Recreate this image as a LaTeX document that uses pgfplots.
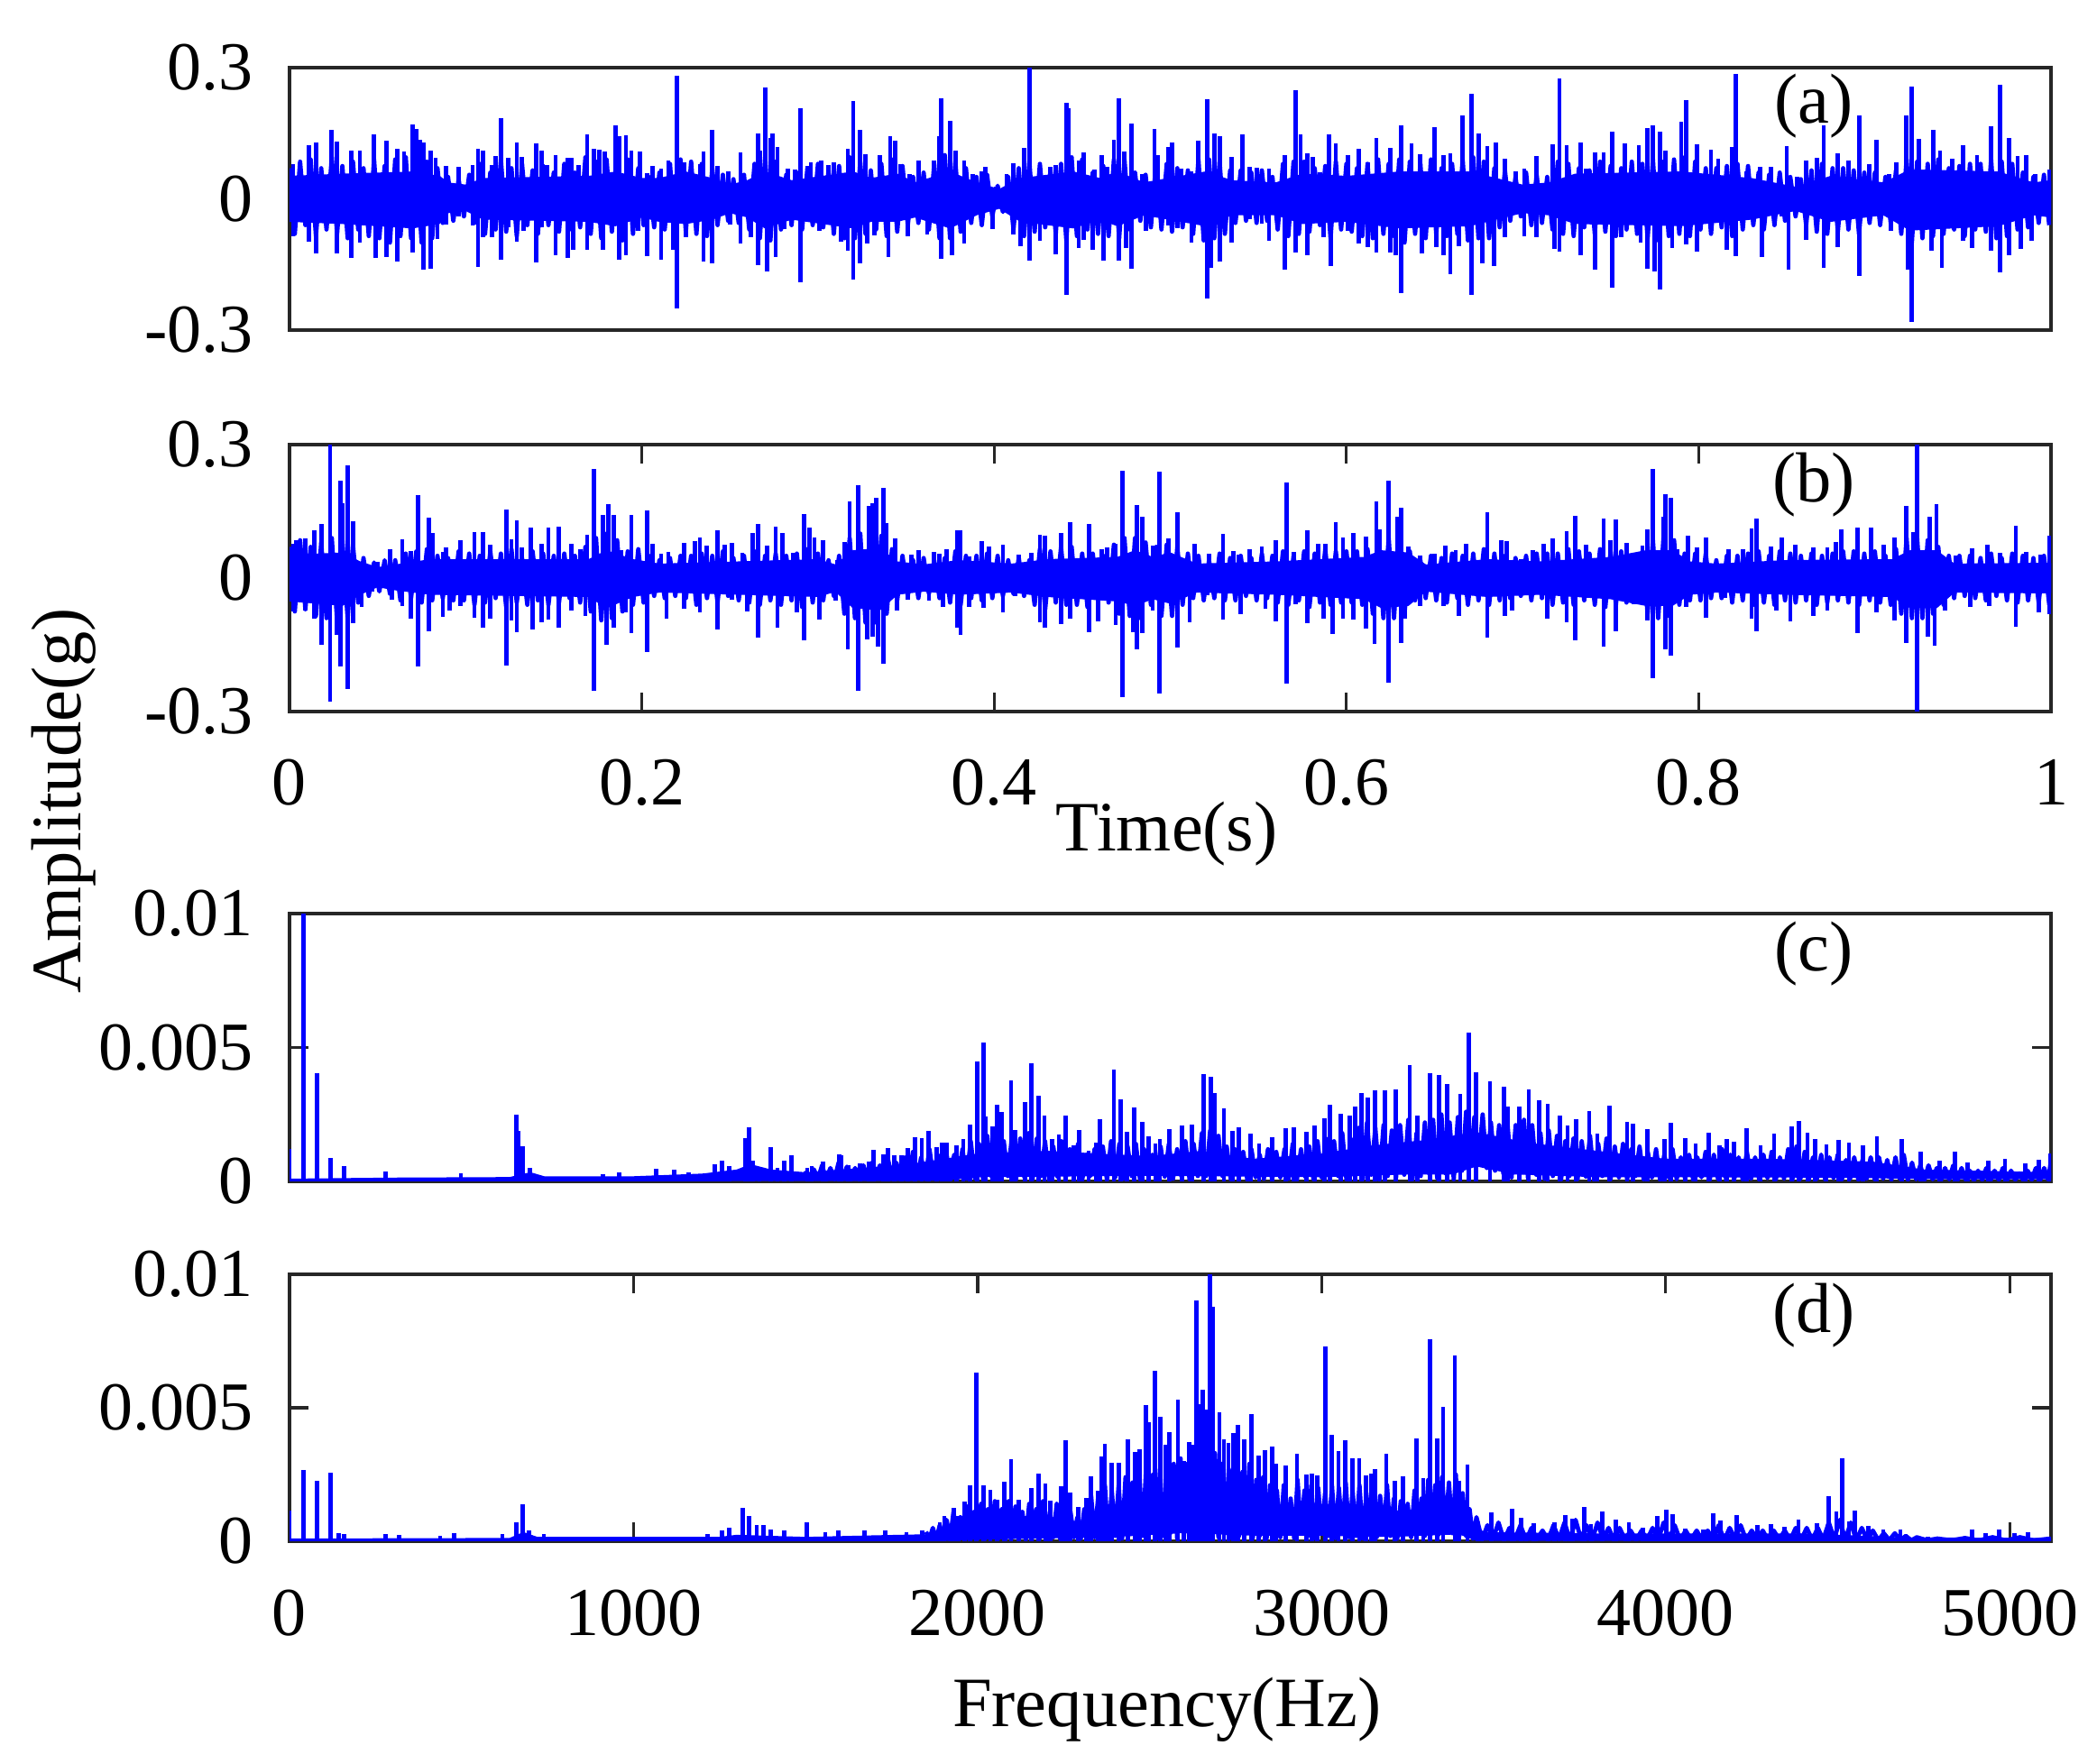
\documentclass[border=0pt]{standalone}
\usepackage{fontspec}
\setmainfont{Liberation Serif}
\usepackage{pgfplots}
\pgfplotsset{compat=1.18}
\definecolor{axisgray}{HTML}{262626}
\pgfplotsset{
  panel/.style={
    scale only axis, width=781.2pt, clip=true, scaled y ticks=false,
    axis line style={axisgray,line width=1.5pt},
    tick style={axisgray,line width=1.3pt},
    major tick length=8.4pt, tick align=inside, tick pos=both,
    font=\fontsize{30.4}{34}\selectfont,
    yticklabel style={inner sep=0pt,xshift=-16pt,text=black},
    xticklabel style={inner sep=0pt,yshift=-21pt,text=black},
  },
  spike/.style={ycomb,blue,line width=1.9pt,no markers},
  zig/.style={blue,line width=1.9pt,no markers,line join=round},
  core/.style={blue,fill=blue,line width=1pt,no markers},
}
\begin{document}
\begin{tikzpicture}[x=1pt,y=1pt]
\path[use as bounding box] (0,0) rectangle (930,782.4);
% ---------------- (a)
\begin{axis}[panel,at={(128.4pt,636pt)},anchor=south west,height=116.4pt,
  xmin=0,xmax=1,ymin=-0.3,ymax=0.3,xtick=\empty,ytick={-0.3,0,0.3},yticklabels={-0.3,0,0.3}]
\addplot[core] coordinates {(0,.05)(.03,.055)(.07,.06)(.085,.05)(.09,.035)(.10,.03)(.11,.045)(.17,.05)(.185,.06)(.2,.045)(.21,.045)(.225,.06)(.24,.045)(.25,.03)(.26,.04)(.27,.06)(.285,.04)(.32,.06)(.33,.045)(.345,.055)(.355,.035)(.375,.06)(.39,.035)(.403,.02)(.415,.045)(.445,.06)(.46,.045)(.47,.06)(.485,.035)(.52,.06)(.535,.04)(.56,.035)(.575,.055)(.6,.05)(.63,.06)(.67,.06)(.69,.04)(.7,.03)(.715,.035)(.73,.055)(.79,.06)(.83,.045)(.855,.025)(.875,.05)(.905,.035)(.92,.065)(.97,.06)(.99,.035)(1,.04)(1,-.04)(.99,-.035)(.97,-.06)(.92,-.07)(.905,-.035)(.875,-.05)(.855,-.025)(.83,-.045)(.79,-.06)(.73,-.055)(.715,-.035)(.7,-.03)(.69,-.04)(.67,-.06)(.63,-.065)(.6,-.05)(.575,-.055)(.56,-.035)(.535,-.035)(.52,-.06)(.485,-.035)(.47,-.06)(.46,-.045)(.445,-.065)(.415,-.05)(.403,-.02)(.39,-.035)(.375,-.065)(.355,-.04)(.345,-.05)(.33,-.05)(.32,-.065)(.285,-.045)(.27,-.065)(.26,-.04)(.25,-.03)(.24,-.045)(.225,-.055)(.21,-.05)(.2,-.04)(.185,-.06)(.17,-.05)(.11,-.045)(.10,-.025)(.09,-.03)(.085,-.055)(.07,-.065)(.03,-.055)(0,-.05)};
\addplot[zig] coordinates {(0,.07)(.003,-.08)(.006,.085)(.009,-.06)(.012,.09)(.015,-.085)(.018,.07)(.021,-.07)(.024,.095)(.027,-.08)(.03,.075)(.033,-.09)(.036,.085)(.039,-.07)(.042,.07)(.045,-.085)(.048,.09)(.051,-.09)(.054,.075)(.057,-.1)(.06,.09)(.063,-.085)(.066,.095)(.069,-.09)(.072,.09)(.075,-.1)(.078,.085)(.081,-.09)(.084,.07)(.087,-.055)(.09,.05)(.093,-.05)(.096,.045)(.099,-.04)(.102,.055)(.105,-.055)(.108,.08)(.111,-.08)(.114,.06)(.117,-.07)(.12,.09)(.123,-.075)(.126,.07)(.129,-.085)(.132,.08)(.135,-.06)(.138,.065)(.141,-.08)(.144,.075)(.147,-.06)(.15,.06)(.153,-.075)(.156,.08)(.159,-.07)(.162,.06)(.165,-.065)(.168,.095)(.171,-.08)(.174,.085)(.177,-.09)(.18,.09)(.183,-.075)(.186,.085)(.189,-.095)(.192,.09)(.195,-.08)(.198,.07)(.201,-.06)(.204,.05)(.207,-.065)(.21,.06)(.213,-.07)(.216,.08)(.219,-.085)(.222,.09)(.225,-.075)(.228,.085)(.231,-.08)(.234,.08)(.237,-.085)(.24,.07)(.243,-.06)(.246,.055)(.249,-.05)(.252,.045)(.255,-.055)(.258,.055)(.261,-.07)(.264,.08)(.267,-.09)(.27,.095)(.273,-.095)(.276,.085)(.279,-.07)(.282,.055)(.285,-.06)(.288,.06)(.291,-.07)(.294,.07)(.297,-.06)(.30,.08)(.303,-.065)(.306,.065)(.309,-.08)(.312,.075)(.315,-.09)(.318,.095)(.321,-.09)(.324,.085)(.327,-.08)(.33,.065)(.333,-.07)(.336,.08)(.339,-.085)(.342,.09)(.345,-.075)(.348,.075)(.351,-.06)(.354,.05)(.357,-.055)(.36,.06)(.363,-.07)(.366,.08)(.369,-.09)(.372,.1)(.375,-.09)(.378,.085)(.381,-.075)(.384,.07)(.387,-.055)(.39,.05)(.393,-.06)(.396,.055)(.399,-.04)(.402,.03)(.405,-.03)(.408,.05)(.411,-.07)(.414,.07)(.417,-.085)(.42,.085)(.423,-.075)(.426,.08)(.429,-.065)(.432,.065)(.435,-.08)(.438,.08)(.441,-.095)(.444,.095)(.447,-.085)(.45,.09)(.453,-.07)(.456,.06)(.459,-.08)(.462,.075)(.465,-.085)(.468,.09)(.471,-.09)(.474,.09)(.477,-.07)(.48,.06)(.483,-.05)(.486,.055)(.489,-.065)(.492,.085)(.495,-.07)(.498,.08)(.501,-.075)(.504,.07)(.507,-.065)(.51,.065)(.513,-.08)(.516,.09)(.519,-.095)(.522,.09)(.525,-.09)(.528,.085)(.531,-.08)(.534,.065)(.537,-.055)(.54,.065)(.543,-.05)(.546,.06)(.549,-.055)(.552,.065)(.555,-.05)(.558,.05)(.561,-.07)(.564,.08)(.567,-.085)(.57,.085)(.573,-.08)(.576,.085)(.579,-.075)(.582,.07)(.585,-.06)(.588,.075)(.591,-.09)(.594,.085)(.597,-.07)(.60,.08)(.603,-.075)(.606,.07)(.609,-.085)(.612,.08)(.615,-.09)(.618,.09)(.621,-.08)(.624,.08)(.627,-.085)(.63,.09)(.633,-.1)(.636,.085)(.639,-.08)(.642,.08)(.645,-.09)(.648,.09)(.651,-.08)(.654,.07)(.657,-.085)(.66,.08)(.663,-.08)(.666,.09)(.669,-.095)(.672,.095)(.675,-.09)(.678,.085)(.681,-.09)(.684,.07)(.687,-.065)(.69,.065)(.693,-.05)(.696,.05)(.699,-.04)(.702,.06)(.705,-.06)(.708,.055)(.711,-.055)(.714,.05)(.717,-.07)(.72,.085)(.723,-.08)(.726,.08)(.729,-.085)(.732,.07)(.735,-.065)(.738,.065)(.741,-.08)(.744,.085)(.747,-.075)(.75,.075)(.753,-.085)(.756,.07)(.759,-.07)(.762,.085)(.765,-.08)(.768,.08)(.771,-.09)(.774,.09)(.777,-.095)(.78,.085)(.783,-.085)(.786,.09)(.789,-.08)(.792,.095)(.795,-.085)(.798,.085)(.801,-.07)(.804,.07)(.807,-.08)(.81,.07)(.813,-.065)(.816,.075)(.819,-.085)(.822,.08)(.825,-.07)(.828,.075)(.831,-.06)(.834,.06)(.837,-.07)(.84,.055)(.843,-.06)(.846,.06)(.849,-.05)(.852,.05)(.855,-.04)(.858,.045)(.861,-.06)(.864,.065)(.867,-.075)(.87,.08)(.873,-.08)(.876,.07)(.879,-.075)(.882,.07)(.885,-.07)(.888,.065)(.891,-.08)(.894,.06)(.897,-.055)(.90,.06)(.903,-.06)(.906,.05)(.909,-.055)(.912,.065)(.915,-.08)(.918,.09)(.921,-.1)(.924,.085)(.927,-.09)(.93,.08)(.933,-.085)(.936,.09)(.939,-.08)(.942,.07)(.945,-.07)(.948,.075)(.951,-.085)(.954,.08)(.957,-.07)(.96,.08)(.963,-.075)(.966,.09)(.969,-.09)(.972,.085)(.975,-.085)(.978,.08)(.981,-.07)(.984,.06)(.987,-.065)(.99,.05)(.993,-.055)(.996,.055)(.999,-.06)};
\addplot[spike] coordinates {(.002,.08)(.011,.122)(.015,.129)(.024,.158)(.027,.13)(.035,.11)(.040,.11)(.048,.147)(.055,.133)(.061,.114)(.065,.108)(.070,.171)(.072,.16)(.074,.135)(.076,.129)(.080,.111)(.083,.094)(.089,.076)(.096,.073)(.104,.077)(.107,.115)(.110,.111)(.115,.077)(.117,.098)(.120,.184)(.124,.094)(.129,.129)(.132,.096)(.140,.127)(.143,.111)(.146,.078)(.151,.1)(.158,.094)(.160,.094)(.164,.077)(.169,.147)(.173,.115)(.176,.113)(.179,.109)(.185,.168)(.187,.144)(.191,.145)(.194,.111)(.199,.108)(.203,.058)(.206,.075)(.211,.07)(.215,.087)(.220,.281)(.224,.084)(.233,.08)(.235,.108)(.240,.158)(.243,.076)(.249,.063)(.256,.106)(.26,.043)(.266,.15)(.267,.111)(.270,.254)(.273,.139)(.274,.149)(.277,.118)(.283,.07)(.287,.067)(.290,.207)(.294,.075)(.296,.084)(.302,.088)(.306,.077)(.309,.084)(.317,.114)(.320,.224)(.324,.158)(.327,.103)(.335,.1)(.341,.143)(.344,.132)(.347,.08)(.352,.056)(.357,.088)(.360,.063)(.366,.088)(.369,.144)(.370,.23)(.375,.179)(.378,.11)(.383,.088)(.388,.056)(.393,.063)(.395,.074)(.401,.028)(.407,.056)(.411,.081)(.417,.117)(.420,.299)(.426,.084)(.432,.074)(.435,.078)(.441,.219)(.442,.208)(.448,.088)(.451,.107)(.457,.067)(.461,.1)(.464,.074)(.468,.136)(.471,.23)(.474,.109)(.478,.173)(.484,.056)(.491,.16)(.493,.1)(.499,.118)(.501,.129)(.506,.07)(.512,.063)(.516,.133)(.521,.228)(.525,.149)(.528,.144)(.535,.096)(.541,.147)(.545,.074)(.549,.072)(.556,.069)(.565,.101)(.571,.249)(.574,.147)(.578,.105)(.581,.095)(.585,.06)(.590,.147)(.594,.127)(.601,.1)(.607,.115)(.612,.083)(.617,.14)(.625,.117)(.631,.169)(.637,.127)(.642,.102)(.650,.163)(.655,.1)(.659,.105)(.666,.19)(.671,.24)(.675,.149)(.680,.12)(.685,.129)(.690,.092)(.696,.062)(.701,.069)(.708,.098)(.714,.043)(.717,.124)(.721,.275)(.725,.122)(.733,.129)(.736,.07)(.741,.106)(.746,.106)(.751,.153)(.758,.127)(.766,.123)(.771,.161)(.774,.168)(.778,.153)(.781,.111)(.786,.094)(.790,.176)(.793,.225)(.799,.125)(.807,.113)(.811,.092)(.819,.118)(.821,.286)(.827,.063)(.835,.074)(.841,.074)(.850,.12)(.856,.05)(.861,.087)(.867,.094)(.871,.169)(.879,.105)(.885,.087)(.891,.19)(.897,.08)(.901,.135)(.908,.056)(.912,.084)(.918,.19)(.921,.256)(.925,.138)(.933,.158)(.937,.11)(.944,.091)(.950,.122)(.958,.099)(.966,.166)(.971,.26)(.976,.14)(.981,.098)(.986,.099)(.991,.056)(.999,.067)};
\addplot[spike] coordinates {(.002,-.085)(.011,-.098)(.015,-.124)(.027,-.124)(.035,-.136)(.040,-.1)(.049,-.135)(.055,-.133)(.061,-.143)(.070,-.122)(.076,-.162)(.080,-.159)(.084,-.092)(.089,-.058)(.096,-.04)(.104,-.06)(.107,-.155)(.110,-.088)(.115,-.088)(.120,-.14)(.124,-.064)(.129,-.098)(.133,-.074)(.140,-.145)(.143,-.065)(.151,-.128)(.158,-.136)(.161,-.117)(.169,-.116)(.178,-.116)(.187,-.139)(.191,-.128)(.198,-.074)(.203,-.131)(.211,-.139)(.218,-.116)(.220,-.25)(.225,-.087)(.235,-.143)(.240,-.148)(.250,-.059)(.256,-.103)(.262,-.088)(.266,-.152)(.271,-.167)(.276,-.133)(.281,-.069)(.290,-.191)(.301,-.074)(.313,-.098)(.317,-.119)(.320,-.184)(.324,-.148)(.328,-.102)(.332,-.083)(.340,-.133)(.351,-.085)(.362,-.081)(.370,-.138)(.376,-.129)(.383,-.102)(.399,-.069)(.411,-.081)(.415,-.109)(.420,-.142)(.426,-.095)(.435,-.127)(.441,-.22)(.448,-.112)(.451,-.094)(.456,-.116)(.462,-.141)(.471,-.142)(.475,-.112)(.478,-.16)(.486,-.074)(.499,-.06)(.504,-.067)(.512,-.1)(.521,-.228)(.523,-.158)(.528,-.144)(.535,-.1)(.545,-.047)(.552,-.057)(.556,-.096)(.565,-.162)(.571,-.122)(.578,-.129)(.587,-.088)(.591,-.154)(.601,-.074)(.607,-.102)(.612,-.11)(.617,-.122)(.625,-.122)(.628,-.129)(.631,-.215)(.643,-.124)(.651,-.11)(.655,-.129)(.659,-.172)(.664,-.109)(.671,-.22)(.677,-.148)(.684,-.153)(.690,-.088)(.695,-.03)(.701,-.085)(.708,-.088)(.718,-.114)(.721,-.121)(.733,-.129)(.741,-.162)(.751,-.203)(.756,-.088)(.767,-.1)(.771,-.16)(.775,-.167)(.778,-.208)(.785,-.112)(.793,-.105)(.799,-.121)(.816,-.117)(.821,-.131)(.836,-.133)(.847,-.04)(.851,-.162)(.861,-.094)(.871,-.158)(.879,-.111)(.891,-.176)(.897,-.05)(.909,-.074)(.919,-.162)(.921,-.282)(.932,-.119)(.938,-.157)(.950,-.095)(.955,-.112)(.966,-.119)(.971,-.169)(.976,-.128)(.983,-.114)(.989,-.095)(.999,-.047)};
\end{axis}
% ---------------- (b)
\begin{axis}[panel,at={(128.4pt,466.8pt)},anchor=south west,height=118.4pt,
  xmin=0,xmax=1,ymin=-0.3,ymax=0.3,xtick={0,0.2,0.4,0.6,0.8,1},xticklabels={0,0.2,0.4,0.6,0.8,1},
  ytick={-0.3,0,0.3},yticklabels={-0.3,0,0.3}]
\addplot[core] coordinates {(0,.05)(.03,.055)(.04,.035)(.05,.022)(.06,.028)(.08,.04)(.17,.04)(.18,.06)(.195,.04)(.21,.03)(.3,.04)(.31,.028)(.32,.06)(.335,.065)(.345,.035)(.36,.028)(.38,.038)(.41,.03)(.43,.04)(.47,.045)(.48,.06)(.49,.045)(.5,.055)(.515,.03)(.56,.035)(.61,.045)(.62,.06)(.635,.055)(.645,.028)(.68,.04)(.71,.035)(.75,.045)(.77,.06)(.785,.06)(.795,.035)(.81,.03)(.85,.038)(.91,.04)(.92,.06)(.935,.06)(.945,.03)(1,.032)(1,-.032)(.945,-.03)(.935,-.065)(.92,-.065)(.91,-.04)(.85,-.035)(.81,-.03)(.795,-.035)(.785,-.06)(.77,-.06)(.75,-.045)(.71,-.035)(.68,-.04)(.645,-.028)(.635,-.06)(.62,-.065)(.61,-.045)(.56,-.035)(.515,-.03)(.5,-.055)(.49,-.045)(.48,-.06)(.47,-.05)(.43,-.04)(.41,-.03)(.38,-.035)(.36,-.028)(.345,-.035)(.335,-.07)(.32,-.065)(.31,-.028)(.3,-.04)(.21,-.03)(.195,-.04)(.18,-.065)(.17,-.04)(.08,-.035)(.06,-.025)(.05,-.018)(.04,-.035)(.03,-.06)(0,-.05)};
\addplot[zig] coordinates {(0,.07)(.003,-.075)(.006,.085)(.009,-.07)(.012,.07)(.015,-.085)(.018,.08)(.021,-.09)(.024,.09)(.027,-.095)(.03,.085)(.033,-.09)(.036,.075)(.039,-.055)(.042,.045)(.045,-.04)(.048,.035)(.051,-.03)(.054,.04)(.057,-.035)(.06,.04)(.063,-.05)(.066,.055)(.069,-.045)(.072,.06)(.075,-.055)(.078,.065)(.081,-.05)(.084,.05)(.087,-.045)(.09,.045)(.093,-.05)(.096,.06)(.099,-.05)(.102,.055)(.105,-.06)(.108,.05)(.111,-.055)(.114,.06)(.117,-.045)(.12,.055)(.123,-.065)(.126,.065)(.129,-.055)(.132,.045)(.135,-.06)(.138,.06)(.141,-.05)(.144,.055)(.147,-.06)(.15,.05)(.153,-.055)(.156,.055)(.159,-.045)(.162,.05)(.165,-.055)(.168,.07)(.171,-.075)(.174,.09)(.177,-.095)(.18,.1)(.183,-.09)(.186,.085)(.189,-.075)(.192,.06)(.195,-.06)(.198,.065)(.201,-.055)(.204,.05)(.207,-.04)(.21,.04)(.213,-.045)(.216,.045)(.219,-.04)(.222,.05)(.225,-.045)(.228,.05)(.231,-.06)(.234,.055)(.237,-.045)(.24,.05)(.243,-.055)(.246,.06)(.249,-.04)(.252,.045)(.255,-.05)(.258,.05)(.261,-.055)(.264,.06)(.267,-.06)(.27,.05)(.273,-.05)(.276,.055)(.279,-.06)(.282,.05)(.285,-.05)(.288,.055)(.291,-.065)(.294,.065)(.297,-.055)(.30,.055)(.303,-.05)(.306,.04)(.309,-.04)(.312,.05)(.315,-.08)(.318,.09)(.321,-.09)(.324,.1)(.327,-.1)(.33,.09)(.333,-.1)(.336,.095)(.339,-.08)(.342,.065)(.345,-.05)(.348,.05)(.351,-.04)(.354,.04)(.357,-.045)(.36,.045)(.363,-.035)(.366,.04)(.369,-.045)(.372,.045)(.375,-.055)(.378,.06)(.381,-.06)(.384,.05)(.387,-.045)(.39,.05)(.393,-.05)(.396,.055)(.399,-.045)(.402,.05)(.405,-.04)(.408,.04)(.411,-.035)(.414,.045)(.417,-.04)(.42,.04)(.423,-.06)(.426,.065)(.429,-.07)(.432,.06)(.435,-.055)(.438,.07)(.441,-.06)(.444,.07)(.447,-.06)(.45,.055)(.453,-.065)(.456,.055)(.459,-.05)(.462,.05)(.465,-.055)(.468,.075)(.471,-.08)(.474,.09)(.477,-.085)(.48,.09)(.483,-.09)(.486,.08)(.489,-.06)(.492,.07)(.495,-.085)(.498,.075)(.501,-.085)(.504,.07)(.507,-.06)(.51,.055)(.513,-.045)(.516,.05)(.519,-.05)(.522,.04)(.525,-.045)(.528,.055)(.531,-.05)(.534,.045)(.537,-.05)(.54,.05)(.543,-.04)(.546,.045)(.549,-.05)(.552,.055)(.555,-.045)(.558,.05)(.561,-.055)(.564,.06)(.567,-.06)(.57,.05)(.573,-.05)(.576,.06)(.579,-.065)(.582,.055)(.585,-.055)(.588,.065)(.591,-.06)(.594,.06)(.597,-.055)(.60,.06)(.603,-.055)(.606,.06)(.609,-.06)(.612,.065)(.615,-.08)(.618,.085)(.621,-.09)(.624,.09)(.627,-.09)(.63,.085)(.633,-.08)(.636,.06)(.639,-.05)(.642,.04)(.645,-.045)(.648,.05)(.651,-.05)(.654,.045)(.657,-.055)(.66,.055)(.663,-.045)(.666,.05)(.669,-.06)(.672,.055)(.675,-.05)(.678,.065)(.681,-.06)(.684,.055)(.687,-.05)(.69,.05)(.693,-.045)(.696,.045)(.699,-.04)(.702,.05)(.705,-.05)(.708,.055)(.711,-.045)(.714,.055)(.717,-.06)(.72,.055)(.723,-.055)(.726,.065)(.729,-.06)(.732,.06)(.735,-.05)(.738,.055)(.741,-.06)(.744,.065)(.747,-.065)(.75,.06)(.753,-.06)(.756,.06)(.759,-.055)(.762,.05)(.765,-.05)(.768,.06)(.771,-.08)(.774,.085)(.777,-.09)(.78,.09)(.783,-.085)(.786,.085)(.789,-.06)(.792,.055)(.795,-.05)(.798,.055)(.801,-.05)(.804,.055)(.807,-.045)(.81,.04)(.813,-.045)(.816,.05)(.819,-.055)(.822,.05)(.825,-.05)(.828,.055)(.831,-.06)(.834,.06)(.837,-.055)(.84,.05)(.843,-.06)(.846,.06)(.849,-.05)(.852,.055)(.855,-.055)(.858,.05)(.861,-.05)(.864,.055)(.867,-.06)(.87,.05)(.873,-.055)(.876,.055)(.879,-.05)(.882,.06)(.885,-.055)(.888,.06)(.891,-.06)(.894,.055)(.897,-.05)(.90,.06)(.903,-.055)(.906,.05)(.909,-.06)(.912,.065)(.915,-.08)(.918,.09)(.921,-.09)(.924,.09)(.927,-.09)(.93,.085)(.933,-.08)(.936,.07)(.939,-.06)(.942,.05)(.945,-.045)(.948,.05)(.951,-.04)(.954,.05)(.957,-.045)(.96,.045)(.963,-.05)(.966,.055)(.969,-.04)(.972,.045)(.975,-.05)(.978,.055)(.981,-.055)(.984,.05)(.987,-.05)(.99,.045)(.993,-.055)(.996,.05)(.999,-.06)};
\addplot[spike] coordinates {(.002,.077)(.004,.086)(.009,.09)(.014,.107)(.018,.122)(.023,.3)(.029,.219)(.030,.168)(.033,.253)(.036,.128)(.042,.049)(.050,.037)(.057,.064)(.064,.087)(.069,.06)(.073,.187)(.079,.135)(.081,.101)(.087,.058)(.089,.069)(.097,.085)(.105,.103)(.110,.104)(.114,.074)(.123,.155)(.126,.087)(.129,.13)(.132,.069)(.137,.114)(.143,.078)(.147,.114)(.153,.116)(.160,.078)(.165,.064)(.169,.097)(.173,.246)(.178,.141)(.181,.166)(.184,.141)(.188,.062)(.194,.141)(.203,.153)(.206,.077)(.211,.055)(.215,.058)(.224,.08)(.230,.084)(.233,.092)(.237,.072)(.243,.108)(.247,.075)(.251,.08)(.257,.057)(.263,.101)(.266,.121)(.271,.073)(.276,.115)(.280,.101)(.286,.057)(.292,.143)(.295,.113)(.298,.092)(.303,.086)(.311,.04)(.315,.082)(.318,.172)(.323,.209)(.329,.162)(.331,.168)(.333,.18)(.337,.203)(.339,.124)(.344,.089)(.353,.053)(.357,.062)(.366,.059)(.369,.055)(.373,.064)(.379,.107)(.381,.107)(.386,.049)(.393,.084)(.397,.07)(.405,.074)(.414,.053)(.421,.057)(.426,.097)(.429,.096)(.438,.101)(.443,.126)(.454,.121)(.461,.064)(.464,.068)(.469,.078)(.473,.241)(.481,.164)(.484,.138)(.490,.072)(.494,.239)(.499,.089)(.504,.148)(.514,.078)(.522,.055)(.530,.099)(.536,.061)(.539,.053)(.545,.064)(.552,.07)(.560,.085)(.566,.215)(.570,.058)(.578,.107)(.584,.077)(.588,.077)(.594,.126)(.598,.092)(.604,.101)(.611,.093)(.617,.173)(.619,.11)(.624,.219)(.629,.138)(.631,.158)(.635,.07)(.642,.05)(.650,.055)(.656,.073)(.662,.062)(.668,.077)(.680,.147)(.688,.085)(.691,.084)(.699,.043)(.706,.062)(.712,.077)(.717,.089)(.725,.105)(.730,.139)(.736,.076)(.746,.134)(.750,.086)(.753,.132)(.759,.08)(.768,.072)(.771,.11)(.774,.246)(.780,.137)(.781,.188)(.784,.18)(.788,.064)(.794,.096)(.799,.068)(.804,.091)(.810,.043)(.817,.065)(.825,.064)(.830,.111)(.833,.134)(.841,.07)(.847,.092)(.855,.075)(.865,.069)(.873,.069)(.878,.081)(.881,.11)(.890,.114)(.898,.113)(.905,.076)(.911,.091)(.918,.162)(.922,.104)(.924,.3)(.931,.137)(.935,.166)(.946,.05)(.955,.067)(.964,.074)(.971,.057)(.980,.118)(.986,.058)(.994,.053)(.999,.095)};
\addplot[spike] coordinates {(.002,-.075)(.009,-.072)(.014,-.092)(.018,-.151)(.023,-.278)(.027,-.128)(.029,-.198)(.033,-.25)(.036,-.102)(.041,-.065)(.047,-.03)(.058,-.049)(.064,-.062)(.069,-.092)(.073,-.198)(.079,-.119)(.087,-.087)(.091,-.072)(.097,-.062)(.105,-.089)(.110,-.112)(.114,-.092)(.123,-.197)(.126,-.095)(.129,-.121)(.138,-.116)(.143,-.099)(.147,-.094)(.153,-.112)(.160,-.072)(.168,-.085)(.173,-.254)(.180,-.151)(.184,-.112)(.191,-.078)(.194,-.124)(.203,-.166)(.214,-.092)(.224,-.068)(.233,-.078)(.243,-.116)(.251,-.048)(.260,-.075)(.266,-.134)(.277,-.112)(.288,-.078)(.292,-.139)(.301,-.093)(.310,-.051)(.317,-.161)(.323,-.254)(.328,-.138)(.331,-.131)(.334,-.154)(.337,-.193)(.345,-.072)(.351,-.048)(.363,-.051)(.371,-.065)(.379,-.111)(.381,-.128)(.386,-.065)(.394,-.066)(.405,-.078)(.412,-.041)(.426,-.1)(.429,-.111)(.438,-.104)(.443,-.092)(.454,-.121)(.459,-.097)(.469,-.105)(.473,-.268)(.479,-.122)(.481,-.16)(.484,-.124)(.490,-.072)(.494,-.259)(.504,-.156)(.511,-.099)(.521,-.038)(.530,-.094)(.540,-.082)(.554,-.068)(.560,-.097)(.566,-.237)(.571,-.058)(.578,-.102)(.587,-.092)(.592,-.126)(.598,-.092)(.604,-.093)(.611,-.114)(.616,-.149)(.624,-.235)(.631,-.146)(.633,-.092)(.642,-.062)(.655,-.062)(.664,-.085)(.680,-.134)(.690,-.085)(.694,-.072)(.714,-.091)(.725,-.099)(.730,-.139)(.746,-.154)(.753,-.119)(.763,-.058)(.771,-.095)(.774,-.225)(.781,-.16)(.784,-.174)(.793,-.065)(.804,-.089)(.815,-.045)(.830,-.092)(.833,-.119)(.844,-.072)(.852,-.097)(.865,-.085)(.873,-.072)(.890,-.124)(.901,-.078)(.911,-.095)(.918,-.145)(.924,-.3)(.930,-.132)(.934,-.153)(.940,-.072)(.954,-.065)(.965,-.062)(.980,-.109)(.993,-.078)(.999,-.082)};
\end{axis}
% ---------------- (c)
\begin{axis}[panel,at={(128.4pt,258.4pt)},anchor=south west,height=118.8pt,
  xmin=0,xmax=5120,ymin=0,ymax=0.01,xtick=\empty,ytick={0,0.005,0.01},yticklabels={0,0.005,0.01}]
\addplot[core] coordinates {(0,.00006)(300,.0001)(640,.00012)(700,.0003)(740,.00015)(1000,.00015)(1200,.00025)(1300,.0004)(1340,.0006)(1400,.0004)(1500,.0003)(1600,.0004)(1700,.0005)(1800,.0006)(1900,.0008)(2000,.001)(2200,.0011)(2500,.0009)(2650,.0011)(2800,.0008)(3000,.001)(3150,.0013)(3300,.0015)(3450,.0018)(3600,.0014)(3800,.0011)(4000,.0008)(4300,.0008)(4600,.0007)(4750,.0004)(5120,.0003)
(5120,.00012)(4800,.00012)(4500,.00018)(4000,.0002)(3800,.0002)(3560,.0003)(3450,.0006)(3380,.0003)(3250,.0003)(3000,.0002)(2500,.00025)(2000,.0002)(1900,.00006)(0,.00003)};
\addplot[zig] coordinates {(1500,.0004)(1512,.00006)(1524,.00045)(1536,.0001)(1548,.0006)(1560,.00005)(1572,.0005)(1584,.00008)(1596,.0007)(1608,.0001)(1620,.00055)(1632,.00006)(1644,.0005)(1656,.0001)(1668,.0006)(1680,.00008)(1692,.0007)(1704,.0001)(1716,.0006)(1728,.00005)(1740,.0008)(1752,.0001)(1764,.0007)(1776,.00012)(1788,.0009)(1800,.00006)(1812,.0011)(1824,.0001)(1836,.0009)(1848,.00008)(1860,.0012)(1872,.00015)(1884,.001)(1896,.0001)(1908,.0012)(1920,.00005)(1932,.001)(1944,.00015)(1956,.0012)(1968,.0001)(1980,.0015)(1992,.00012)(2004,.0014)(2016,.00008)(2028,.0017)(2040,.0002)(2052,.0018)(2064,.0001)(2076,.0015)(2088,.0002)(2100,.0017)(2112,.00008)(2124,.0016)(2136,.00015)(2148,.0018)(2160,.0001)(2172,.0016)(2184,.0002)(2196,.0015)(2208,.00005)(2220,.0013)(2232,.00018)(2244,.0015)(2256,.0001)(2268,.0012)(2280,.0002)(2292,.0014)(2304,.00006)(2316,.001)(2328,.0002)(2340,.0012)(2352,.0001)(2364,.0013)(2376,.00005)(2388,.0015)(2400,.00015)(2412,.0014)(2424,.0001)(2436,.0013)(2448,.0002)(2460,.0014)(2472,.00008)(2484,.0012)(2496,.0002)(2508,.001)(2520,.00005)(2532,.0013)(2544,.00018)(2556,.0014)(2568,.0001)(2580,.0012)(2592,.0002)(2604,.0015)(2616,.00008)(2628,.0014)(2640,.0002)(2652,.0018)(2664,.0002)(2676,.0019)(2688,.00012)(2700,.0017)(2712,.0002)(2724,.0013)(2736,.00008)(2748,.0012)(2760,.00018)(2772,.0011)(2784,.00006)(2796,.0012)(2808,.00015)(2820,.001)(2832,.0001)(2844,.0012)(2856,.00005)(2868,.0011)(2880,.00015)(2892,.0012)(2904,.0001)(2916,.0014)(2928,.00006)(2940,.0012)(2952,.00018)(2964,.0013)(2976,.0001)(2988,.0015)(3000,.00015)(3012,.0016)(3024,.00006)(3036,.0015)(3048,.0002)(3060,.0018)(3072,.00008)(3084,.0016)(3096,.0002)(3108,.002)(3120,.0001)(3132,.0022)(3144,.00025)(3156,.002)(3168,.00006)(3180,.0021)(3192,.0002)(3204,.0019)(3216,.0001)(3228,.0021)(3240,.00025)(3252,.0023)(3264,.00008)(3276,.0018)(3288,.0002)(3300,.0022)(3312,.0003)(3324,.0023)(3336,.00012)(3348,.0025)(3360,.0003)(3372,.0022)(3384,.00008)(3396,.0024)(3408,.0004)(3420,.0026)(3432,.0006)(3444,.0024)(3456,.0007)(3468,.0025)(3480,.0005)(3492,.0022)(3504,.0004)(3516,.0021)(3528,.0003)(3540,.0022)(3552,.00015)(3564,.0021)(3576,.0003)(3588,.0023)(3600,.0001)(3612,.0021)(3624,.00025)(3636,.0018)(3648,.0001)(3660,.0019)(3672,.0002)(3684,.0017)(3696,.00008)(3708,.0015)(3720,.0002)(3732,.0016)(3744,.0001)(3756,.0015)(3768,.00018)(3780,.0017)(3792,.00006)(3804,.0014)(3816,.0002)(3828,.0016)(3840,.0001)(3852,.0013)(3864,.00015)(3876,.0014)(3888,.00006)(3900,.0012)(3912,.0002)(3924,.0013)(3936,.00008)(3948,.0011)(3960,.00015)(3972,.0012)(3984,.00005)(3996,.001)(4008,.00015)(4020,.0012)(4032,.00008)(4044,.0009)(4056,.00012)(4068,.001)(4080,.00005)(4092,.0009)(4104,.00015)(4116,.0011)(4128,.00006)(4140,.001)(4152,.0001)(4164,.0012)(4176,.00005)(4188,.001)(4200,.00012)(4212,.0009)(4224,.00006)(4236,.0011)(4248,.0001)(4260,.0009)(4272,.00005)(4284,.001)(4296,.00012)(4308,.0011)(4320,.00006)(4332,.0009)(4344,.0001)(4356,.0012)(4368,.00005)(4380,.0013)(4392,.00012)(4404,.0011)(4416,.00006)(4428,.0009)(4440,.0001)(4452,.001)(4464,.00005)(4476,.0009)(4488,.00012)(4500,.001)(4512,.00006)(4524,.0008)(4536,.0001)(4548,.0009)(4560,.00005)(4572,.0008)(4584,.0001)(4596,.0009)(4608,.00006)(4620,.0009)(4632,.0001)(4644,.0008)(4656,.00005)(4668,.0009)(4680,.0001)(4692,.001)(4704,.00005)(4716,.0007)(4728,.00008)(4740,.0006)(4752,.00005)(4764,.0006)(4776,.00008)(4788,.0005)(4800,.00004)(4812,.0005)(4824,.00008)(4836,.0006)(4848,.00004)(4860,.0005)(4872,.00006)(4884,.0004)(4896,.00004)(4908,.0004)(4920,.00006)(4932,.0005)(4944,.00004)(4956,.0004)(4968,.00006)(4980,.0005)(4992,.00004)(5004,.0004)(5016,.00006)(5028,.0003)(5040,.00004)(5052,.0004)(5064,.00006)(5076,.0005)(5088,.00004)(5100,.0005)(5112,.00006)(5119,.0007)};
\addplot[spike] coordinates {(0,.0012)(40,.01)(42,.01)(80,.00404)(119,.00088)(159,.00056)(279,.00037)(498,.0003)(659,.0025)(666,.0019)(677,.0013)(699,.0005)(911,.00028)(958,.00034)(1065,.00047)(1119,.00043)(1160,.00034)(1237,.00064)(1257,.00079)(1278,.00056)(1324,.00163)(1336,.00202)(1346,.00079)(1366,.0005)(1398,.00129)(1418,.0005)(1438,.00076)(1458,.00099)(1505,.0005)(1518,.00058)(1550,.00075)(1597,.00101)(1604,.00096)(1625,.00062)(1659,.00067)(1684,.00073)(1697,.00118)(1726,.00101)(1739,.00124)(1757,.00096)(1778,.00096)(1798,.00126)(1818,.00166)(1838,.00163)(1858,.00189)(1881,.00129)(1896,.00146)(1910,.00146)(1938,.00133)(1958,.00157)(1978,.00213)(1998,.00449)(2017,.0052)(2023,.00242)(2044,.00204)(2057,.00287)(2070,.00258)(2097,.00376)(2110,.00191)(2137,.00296)(2157,.00442)(2177,.0032)(2194,.00247)(2216,.00157)(2236,.00174)(2256,.00245)(2279,.00135)(2296,.00191)(2323,.00115)(2345,.00144)(2356,.00233)(2396,.00416)(2416,.00306)(2435,.00185)(2456,.00275)(2478,.00221)(2498,.00169)(2517,.00143)(2530,.00157)(2557,.00194)(2595,.0021)(2622,.00213)(2656,.00399)(2678,.0039)(2690,.00329)(2716,.00274)(2741,.00189)(2759,.00202)(2793,.0018)(2818,.00143)(2856,.00165)(2895,.00197)(2920,.00202)(2955,.00185)(2980,.00208)(3009,.00236)(3024,.00287)(3055,.00252)(3082,.00247)(3097,.00281)(3115,.00331)(3135,.00312)(3156,.00339)(3183,.0034)(3216,.00343)(3256,.00436)(3278,.00247)(3315,.00404)(3342,.00397)(3365,.00362)(3403,.00326)(3428,.00554)(3448,.00408)(3489,.00373)(3529,.00354)(3542,.00281)(3575,.00279)(3602,.00343)(3632,.00303)(3657,.0029)(3693,.00245)(3715,.0021)(3740,.00233)(3778,.00264)(3801,.0018)(3836,.00283)(3888,.00222)(3905,.00217)(3947,.00194)(3997,.00157)(4015,.00219)(4056,.00163)(4087,.00143)(4126,.00183)(4156,.00135)(4178,.00157)(4199,.00148)(4236,.00197)(4276,.00133)(4315,.00178)(4367,.00206)(4388,.00225)(4412,.00182)(4434,.00157)(4467,.00137)(4502,.00154)(4533,.00144)(4574,.00133)(4614,.00169)(4686,.00157)(4741,.0011)(4797,.00079)(4841,.00112)(4878,.0007)(4938,.00076)(4986,.00084)(5045,.00067)(5084,.00082)(5119,.00103)};
\end{axis}
% ---------------- (d)
\begin{axis}[panel,at={(128.4pt,98.8pt)},anchor=south west,height=118.4pt,
  xmin=0,xmax=5120,ymin=0,ymax=0.01,xtick={0,1000,2000,3000,4000,5000},xticklabels={0,1000,2000,3000,4000,5000},
  xticklabel style={yshift=-0.5pt},ytick={0,0.005,0.01},yticklabels={0,0.005,0.01}]
\addplot[core] coordinates {(0,.00006)(640,.00008)(680,.0003)(720,.00012)(1250,.00012)(1300,.0002)(1500,.00012)(1700,.00018)(1850,.00022)(1950,.0005)(2050,.0009)(2200,.0009)(2290,.0007)(2400,.0012)(2550,.0014)(2660,.0019)(2780,.0014)(2900,.0011)(3200,.0011)(3380,.0012)(3430,.0008)(3470,.0003)(3800,.00025)(4400,.00025)(4600,.00015)(4700,.0001)(5120,.00008)
(5120,.00002)(4500,.00004)(3450,.00006)(3400,.0003)(3200,.0002)(3000,.00025)(2800,.00025)(2600,.00035)(2400,.0002)(2200,.00015)(2000,.0001)(1900,.00005)(0,.00002)};
\addplot[zig] coordinates {(1850,.00035)(1860,.0001)(1870,.0005)(1880,.00006)(1890,.0006)(1900,.0001)(1910,.0008)(1920,.00006)(1930,.0011)(1940,.0001)(1950,.0009)(1960,.00008)(1970,.0013)(1980,.00015)(1990,.0011)(2000,.0001)(2010,.0014)(2020,.00006)(2030,.0012)(2040,.00015)(2050,.0015)(2060,.0001)(2070,.0012)(2080,.00005)(2090,.0015)(2100,.00015)(2110,.0013)(2120,.0001)(2130,.0011)(2140,.00006)(2150,.0014)(2160,.00015)(2170,.0012)(2180,.0001)(2190,.0015)(2200,.00006)(2210,.0011)(2220,.00015)(2230,.0014)(2240,.0001)(2250,.0019)(2260,.00006)(2270,.0011)(2280,.00015)(2290,.0009)(2300,.0001)(2310,.0012)(2320,.00006)(2330,.0017)(2340,.00015)(2350,.0016)(2360,.0001)(2370,.0021)(2380,.00006)(2390,.0019)(2400,.0002)(2410,.0021)(2420,.0001)(2430,.0024)(2440,.00025)(2450,.0022)(2460,.0001)(2470,.0026)(2480,.0002)(2490,.0028)(2500,.0003)(2510,.0025)(2520,.0001)(2530,.0027)(2540,.0002)(2550,.0024)(2560,.0003)(2570,.0029)(2580,.0001)(2590,.0031)(2600,.0002)(2610,.0029)(2620,.00035)(2630,.0033)(2640,.0005)(2650,.0036)(2660,.0006)(2670,.0037)(2680,.0004)(2690,.0033)(2700,.00015)(2710,.0029)(2720,.0003)(2730,.0027)(2740,.0001)(2750,.003)(2760,.0002)(2770,.0026)(2780,.0003)(2790,.0029)(2800,.00012)(2810,.0023)(2820,.0002)(2830,.0024)(2840,.0001)(2850,.0021)(2860,.0002)(2870,.0019)(2880,.00015)(2890,.0021)(2900,.0003)(2910,.0016)(2920,.00012)(2930,.0023)(2940,.0003)(2950,.0019)(2960,.0002)(2970,.0021)(2980,.00012)(2990,.002)(3000,.0003)(3010,.0018)(3020,.0002)(3030,.0021)(3040,.00012)(3050,.002)(3060,.0003)(3070,.0022)(3080,.00015)(3090,.0019)(3100,.0002)(3110,.0021)(3120,.0001)(3130,.0018)(3140,.0003)(3150,.0019)(3160,.00015)(3170,.0017)(3180,.0003)(3190,.0021)(3200,.0002)(3210,.0016)(3220,.0001)(3230,.0015)(3240,.0003)(3250,.0014)(3260,.00015)(3270,.0019)(3280,.0003)(3290,.0016)(3300,.0002)(3310,.0023)(3320,.0004)(3330,.0021)(3340,.00025)(3350,.0024)(3360,.0005)(3370,.0022)(3380,.0003)(3390,.0025)(3400,.0002)(3410,.0018)(3420,.0002)(3430,.0012)(3440,.0001)(3450,.0009)(3466,.00005)(3482,.0006)(3498,.0001)(3514,.0007)(3530,.00004)(3546,.0005)(3562,.00008)(3578,.0006)(3594,.00004)(3610,.0005)(3626,.00008)(3642,.0004)(3658,.00004)(3674,.0006)(3690,.00008)(3706,.0007)(3722,.00004)(3738,.0008)(3754,.00008)(3770,.0006)(3786,.00004)(3802,.0007)(3818,.00008)(3834,.0005)(3850,.00004)(3866,.0005)(3882,.00006)(3898,.0004)(3914,.00004)(3930,.0004)(3946,.00006)(3962,.0005)(3978,.00004)(3994,.0007)(4010,.00008)(4026,.0006)(4042,.00004)(4058,.0004)(4074,.00006)(4090,.0004)(4106,.00004)(4122,.0004)(4138,.00006)(4154,.0006)(4170,.00004)(4186,.0005)(4202,.00008)(4218,.0006)(4234,.00004)(4250,.0004)(4266,.00006)(4282,.0004)(4298,.00004)(4314,.0004)(4330,.00006)(4346,.0004)(4362,.00004)(4378,.0005)(4394,.00006)(4410,.0005)(4426,.00004)(4442,.0005)(4458,.00006)(4474,.0007)(4490,.00008)(4506,.0008)(4522,.00006)(4538,.0007)(4554,.00004)(4570,.0005)(4586,.00004)(4602,.0004)(4618,.00004)(4634,.0003)(4650,.00004)(4666,.0003)(4682,.00004)(4698,.0002)(4714,.00003)(4730,.00015)(4760,.00003)(4790,.0001)(4830,.00003)(4870,.00012)(4910,.00003)(4950,.00015)(4990,.00003)(5030,.00015)(5070,.00003)(5119,.0001)};
\addplot[spike] coordinates {(0,.00115)(40,.00267)(80,.00228)(119,.00256)(142,.00031)(159,.00028)(279,.00028)(318,.00022)(438,.0002)(478,.00031)(619,.00026)(659,.00071)(677,.00138)(697,.00039)(739,.00028)(1216,.00026)(1258,.00039)(1278,.0005)(1318,.00125)(1336,.00093)(1358,.0006)(1378,.0006)(1398,.00045)(1438,.0004)(1503,.00071)(1557,.00034)(1595,.00039)(1671,.00039)(1731,.00039)(1793,.00035)(1839,.00039)(1890,.00071)(1903,.00093)(1930,.00124)(1943,.00093)(1963,.00149)(1977,.00211)(1997,.00633)(2017,.00211)(2037,.00194)(2057,.00155)(2077,.00222)(2097,.00309)(2119,.00157)(2157,.00198)(2177,.00252)(2197,.00215)(2211,.00153)(2243,.00206)(2256,.0038)(2269,.00182)(2293,.00127)(2316,.00163)(2330,.00242)(2351,.00189)(2361,.00316)(2370,.00366)(2390,.00293)(2410,.00293)(2436,.00383)(2457,.00335)(2470,.00343)(2490,.00511)(2497,.00447)(2515,.0064)(2532,.00467)(2547,.00361)(2557,.00408)(2582,.00531)(2600,.00301)(2615,.00372)(2625,.0036)(2636,.00902)(2645,.00515)(2654,.00567)(2667,.00492)(2676,.01)(2684,.00878)(2703,.00483)(2716,.00383)(2729,.00369)(2743,.00404)(2756,.00436)(2774,.00383)(2796,.00478)(2816,.00321)(2836,.0034)(2856,.00354)(2868,.0029)(2895,.00284)(2928,.00327)(2955,.00251)(2972,.00253)(2987,.00247)(3010,.00731)(3029,.00397)(3049,.00338)(3069,.00378)(3089,.00312)(3109,.0031)(3129,.00245)(3143,.00254)(3156,.00271)(3188,.00329)(3213,.00228)(3236,.00242)(3275,.00385)(3295,.00237)(3315,.00756)(3335,.00385)(3353,.00503)(3387,.00697)(3399,.00228)(3424,.00288)(3454,.00076)(3494,.00108)(3554,.00121)(3579,.00088)(3617,.00069)(3676,.00071)(3708,.00099)(3729,.00085)(3763,.0013)(3783,.00065)(3815,.0011)(3855,.00081)(3893,.00072)(3933,.00052)(3975,.00093)(4002,.00117)(4020,.00101)(4056,.00048)(4109,.00045)(4139,.00106)(4159,.00079)(4206,.00097)(4266,.0006)(4306,.00063)(4345,.00054)(4386,.00082)(4439,.00069)(4473,.00169)(4496,.00112)(4513,.0031)(4533,.00074)(4550,.00116)(4590,.00056)(4632,.00045)(4682,.00045)(4763,.00018)(4891,.00043)(4929,.00031)(4970,.00043)(5014,.00031)(5054,.00034)(5114,.00017)};
\end{axis}
% ---------------- texts
\fontsize{31.4}{35}\selectfont
\node[rotate=90] at (28.3,427.2) {Amplitude(g)};
\node at (517.5,412.7) {Time(s)};
\node at (517.5,24.1) {Frequency(Hz)};
\node at (804.5,735.2) {(a)};
\node at (804.5,567.2) {(b)};
\node at (804.5,359.2) {(c)};
\node at (804.5,198.8) {(d)};
\end{tikzpicture}
\end{document}
